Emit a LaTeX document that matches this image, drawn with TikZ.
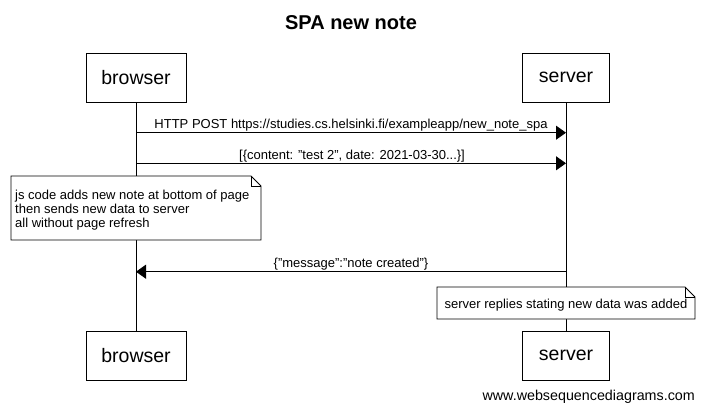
\documentclass[tikz,border=0pt]{standalone}
\usepackage{fontspec}
\setmainfont{Liberation Sans}
\usetikzlibrary{arrows.meta,calc}
\begin{document}
\begin{tikzpicture}[x=1pt,y=-1pt,
  actor/.style={draw, line width=0.9pt, minimum width=100pt, minimum height=49pt, inner sep=0pt, font=\fontsize{19.5}{22}\selectfont},
  life/.style={line width=0.9pt},
  msg/.style={line width=0.9pt, -{Triangle[length=10pt,width=14pt]}},
  mlabel/.style={font=\fontsize{13}{15}\selectfont, inner sep=0pt, anchor=base},
  notetext/.style={font=\fontsize{13}{14.3}\selectfont, align=left, inner sep=0pt},
  notebox/.style={draw, line width=0.9pt, fill=white}
]
\useasboundingbox (0,0) rectangle (701,415);
\node[font=\bfseries\fontsize{20}{23}\selectfont, anchor=base] (title) at (351,29.3) {SPA new note};

\node[actor] (b1) at (136,77.5) {browser};
\node[actor, minimum width=87pt] (s1) at (566,77.5) {server};
\node[actor] (b2) at (136,355.5) {browser};
\node[actor, minimum width=87pt] (s2) at (566,355.5) {server};

\draw[life] (b1.south) -- (b2.north);
\draw[life] (s1.south) -- (s2.north);

\coordinate (a1b) at (136,132.7);
\coordinate (a1s) at (566,132.7);
\draw[msg] (a1b) -- (a1s);
\node[mlabel] (l1) at (351,128.7) {HTTP POST https://studies.cs.helsinki.fi/exampleapp/new\_note\_spa};

\coordinate (a2b) at (136,163.3);
\coordinate (a2s) at (566,163.3);
\draw[msg] (a2b) -- (a2s);
\node[mlabel] (l2) at (352,159.3) {[\{content: "test 2", date: 2021-03-30...\}]};

% note 1
\draw[notebox] (11,176) -- (251,176) -- (261,186) -- (261,240) -- (11,240) -- cycle;
\draw[line width=0.7pt] (251,176) -- (251,186) -- (261,186);
\node[notetext, anchor=north west] (n1) at (15,189.6) {js code adds new note at bottom of page\\then sends new data to server\\all without page refresh};

\coordinate (a3s) at (566,271.7);
\coordinate (a3b) at (136,271.7);
\draw[msg] (a3s) -- (a3b);
\node[mlabel] (l3) at (351,267.7) {\{"message":"note created"\}};

% note 2
\draw[notebox] (437,287) -- (685,287) -- (695,297) -- (695,319) -- (437,319) -- cycle;
\draw[line width=0.7pt] (685,287) -- (685,297) -- (695,297);
\node[notetext, anchor=base] (n2) at (566,308) {server replies stating new data was added};

\node[font=\fontsize{14.3}{16}\selectfont, anchor=base east, inner sep=0pt] (wm) at (695,400.7) {www.websequencediagrams.com};
\end{tikzpicture}
\end{document}
